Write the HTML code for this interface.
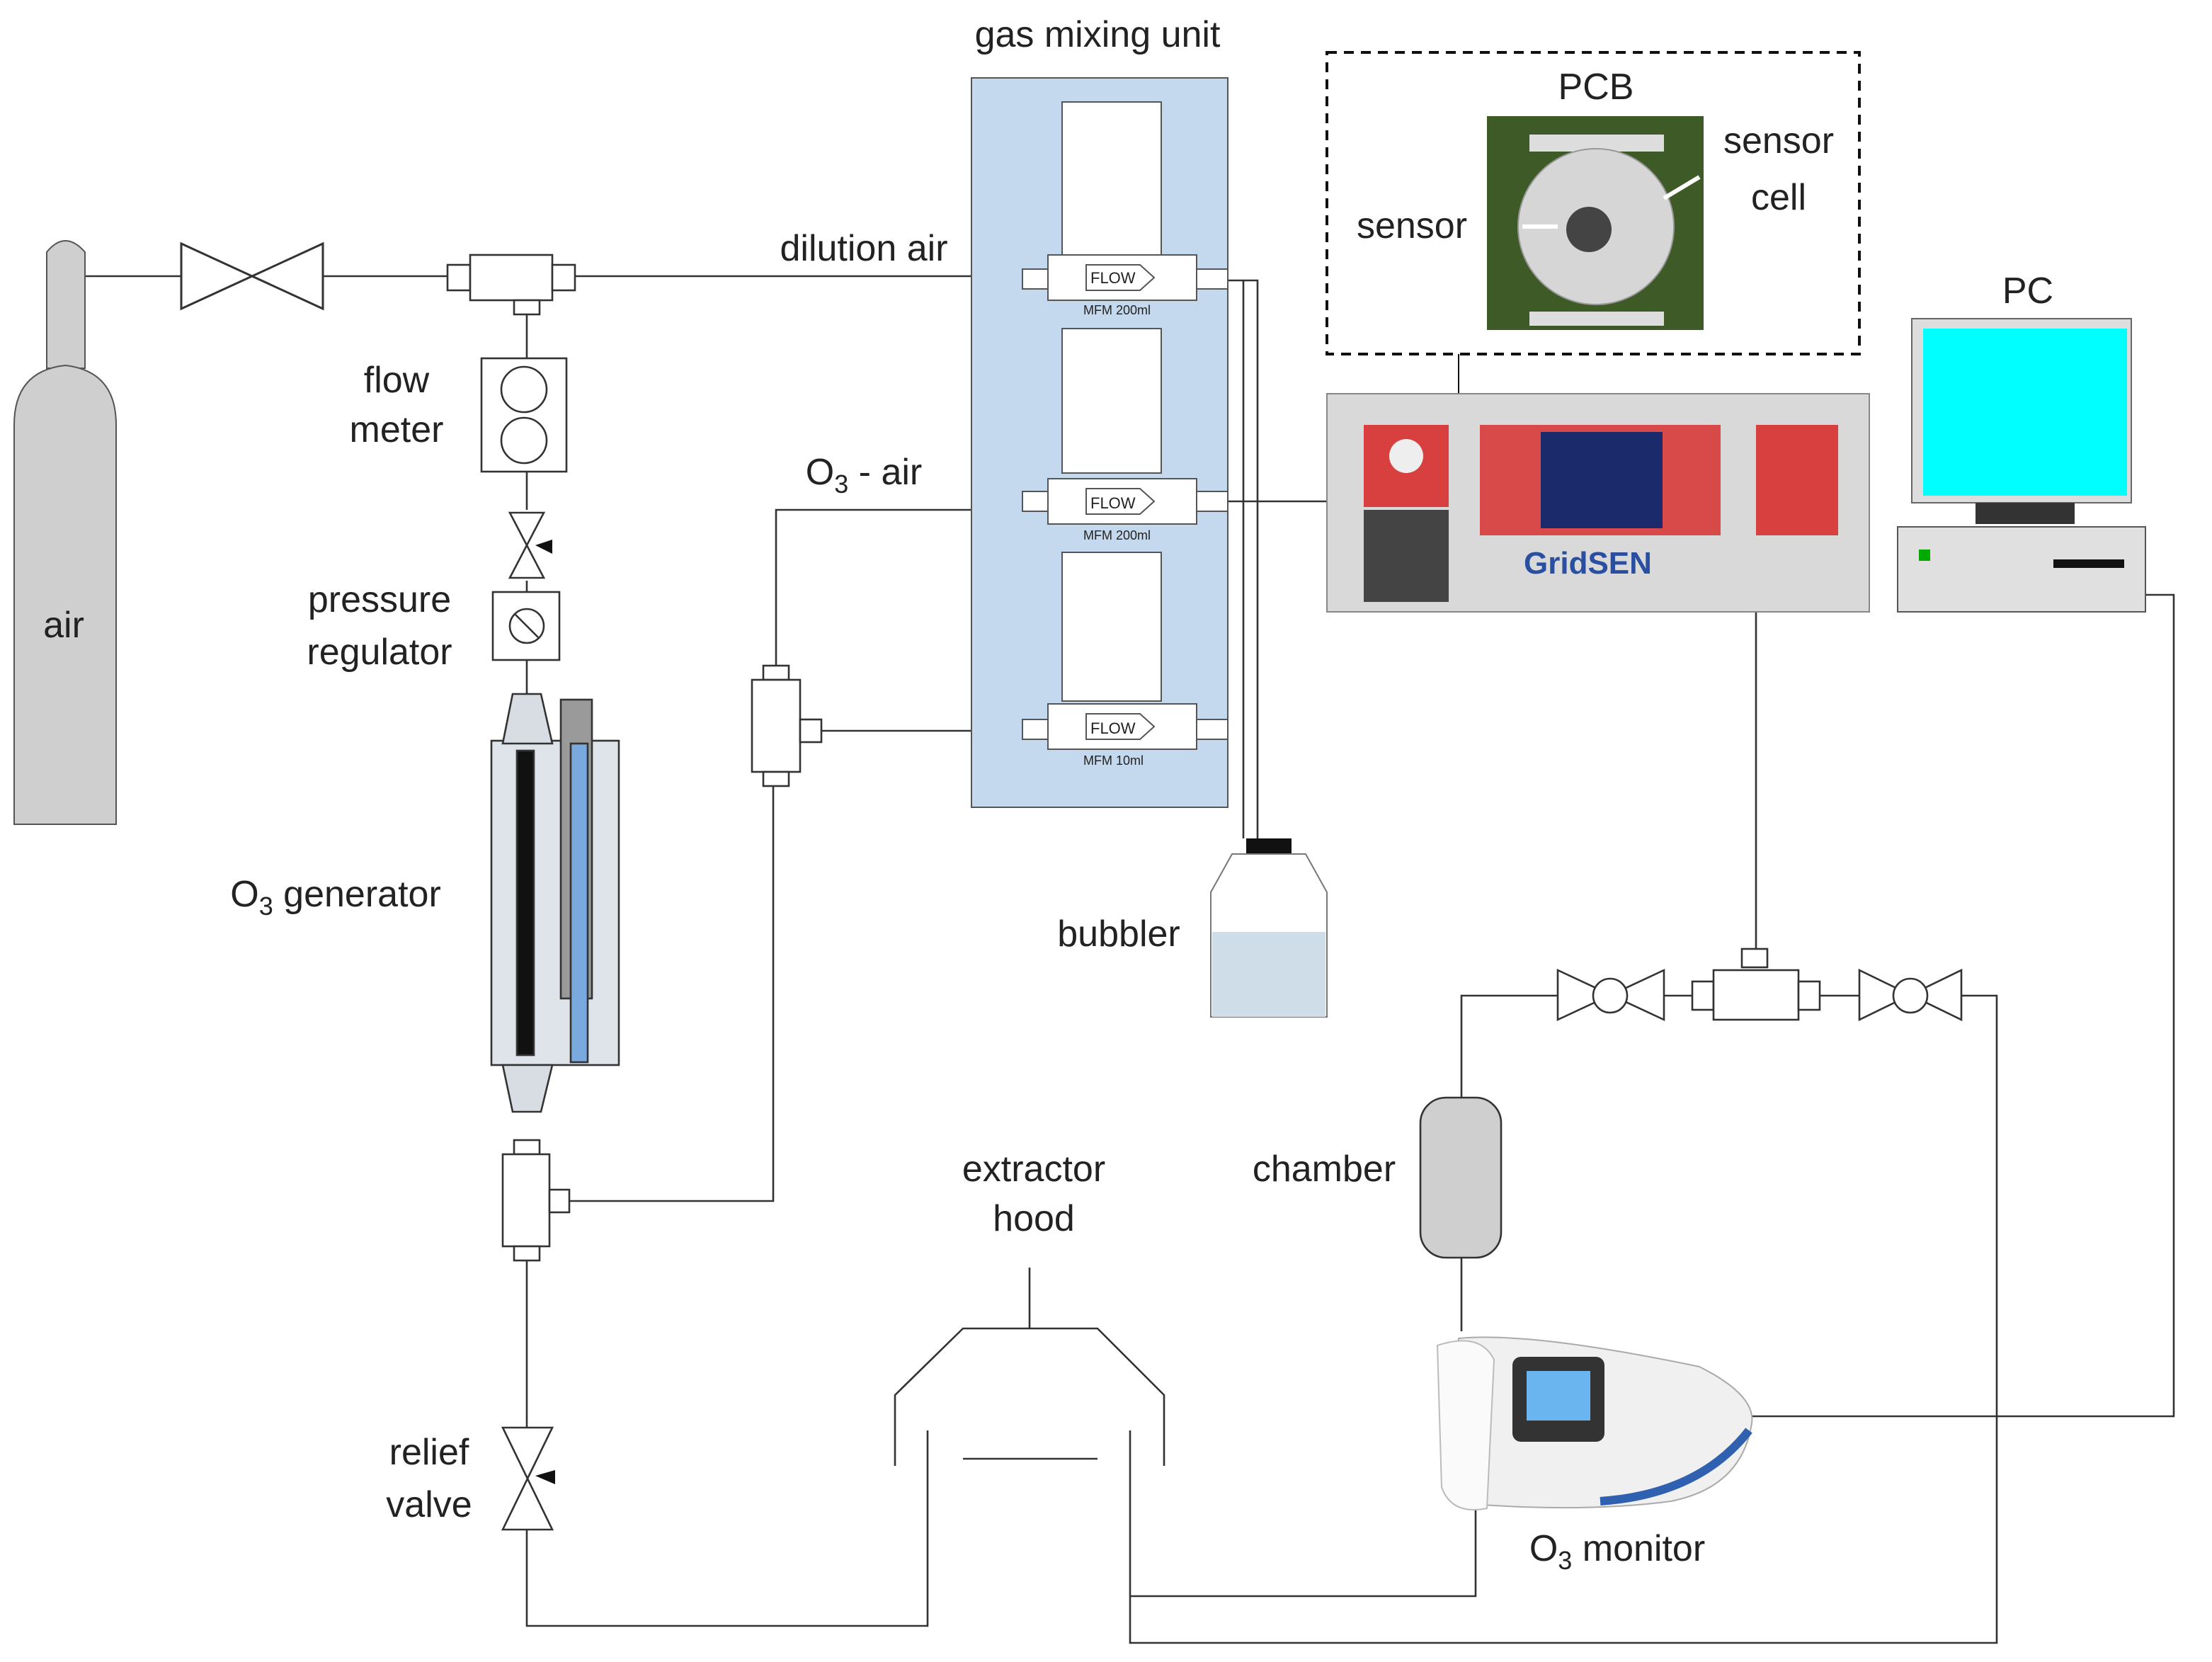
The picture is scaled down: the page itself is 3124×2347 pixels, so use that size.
<!DOCTYPE html>
<html><head><meta charset="utf-8"><style>
html,body{margin:0;padding:0;background:#fff;}
svg{display:block;}
text{font-family:"Liberation Sans",sans-serif;fill:#222;}
</style></head><body>
<svg width="3124" height="2347" viewBox="0 0 1562 1173.5" xmlns="http://www.w3.org/2000/svg">
<rect width="1562" height="1174" fill="#fff"/>
<g fill="none" stroke="#333" stroke-width="1.3">
<!-- pipes -->
<path d="M60 195H128M228 195H316M406 195H722"/>
<path d="M372 220V253M372 333V360M372 410V418M372 466V490"/>
<path d="M402 848H546V555M548 470V360H722M580 516H722"/>
<path d="M372 890V1008M372 1080V1148H655V1010M798 1010V1160H1410V703H1385"/>
<path d="M798 1127H1042V1065"/>
<path d="M867 198H888V592M878 198V592M867 354H937"/>
<path d="M1240 432V683M1195 703H1175M1100 703H1032V775M1032 888V940M1285 703H1313"/>
<path d="M1237 1000H1535V420H1515"/>
<path d="M727 895V938"/>
</g>
<!-- air cylinder -->
<path d="M33 260V178Q46 162 60 178V260Z" fill="#cfcfcf" stroke="#555"/>
<path d="M10 582V300Q10 262 46 258Q82 262 82 300V582Z" fill="#cfcfcf" stroke="#555"/>
<text x="45" y="450" font-size="26" text-anchor="middle">air</text>
<!-- valve -->
<path d="M128 172L228 218V172L128 218Z" fill="#fff" stroke="#333" stroke-width="1.5"/>
<!-- T fitting -->
<g fill="#fff" stroke="#333" stroke-width="1.3">
<rect x="316" y="187" width="16" height="18"/><rect x="332" y="180" width="58" height="32"/><rect x="390" y="187" width="16" height="18"/><rect x="363" y="212" width="18" height="10"/>
<rect x="340" y="253" width="60" height="80"/>
<circle cx="370" cy="275" r="16"/><circle cx="370" cy="311" r="16"/>
<path d="M360 362L384 362L360 408L384 408Z"/>
<rect x="348" y="418" width="47" height="48"/><circle cx="372" cy="442" r="12"/><path d="M364 434L380 450"/>
<!-- generator -->
<rect x="347" y="523" width="90" height="229" fill="#dfe4ea"/>
<path d="M362 490H382L390 525H355Z" fill="#d8dde3"/>
<rect x="365" y="530" width="12" height="215" fill="#111"/>
<rect x="396" y="494" width="22" height="211" fill="#9a9a9a"/>
<rect x="403" y="525" width="12" height="225" fill="#7aa9dd"/>
<path d="M355 752H390L382 785H362Z" fill="#d8dde3"/>
<rect x="363" y="805" width="18" height="10"/><rect x="355" y="815" width="33" height="65"/><rect x="363" y="880" width="18" height="10"/><rect x="388" y="840" width="14" height="16"/>
<rect x="539" y="470" width="18" height="10"/><rect x="531" y="480" width="34" height="65"/><rect x="539" y="545" width="18" height="10"/><rect x="565" y="508" width="15" height="16"/>
<path d="M355 1008H390L355 1080H390Z"/>
</g>
<path d="M378 1042L392 1038V1048Z" fill="#111"/>
<path d="M378 385L390 381V391Z" fill="#111"/>
<!-- gas mixing unit -->
<rect x="686" y="55" width="181" height="515" fill="#c5d9ee" stroke="#555"/>
<g font-size="9" stroke="#555" stroke-width="1">
<rect x="750" y="72" width="70" height="108" fill="#fff"/>
<rect x="750" y="232" width="70" height="102" fill="#fff"/>
<rect x="750" y="390" width="70" height="105" fill="#fff"/>
<g fill="#fff">
<rect x="740" y="180" width="105" height="32"/><rect x="740" y="338" width="105" height="32"/><rect x="740" y="497" width="105" height="32"/>
<rect x="722" y="190" width="18" height="14"/><rect x="845" y="190" width="22" height="14"/>
<rect x="722" y="347" width="18" height="14"/><rect x="845" y="347" width="22" height="14"/>
<rect x="722" y="508" width="18" height="14"/><rect x="845" y="508" width="22" height="14"/>
<path d="M767 187H805L815 196L805 205H767Z"/><path d="M767 345H805L815 354L805 363H767Z"/><path d="M767 504H805L815 513L805 522H767Z"/>
</g>
</g>
<g font-size="11" fill="#222">
<text x="770" y="200">FLOW</text><text x="770" y="359">FLOW</text><text x="770" y="518">FLOW</text>
<text x="765" y="222" font-size="9">MFM 200ml</text><text x="765" y="381" font-size="9">MFM 200ml</text><text x="765" y="540" font-size="9">MFM 10ml</text>
</g>
<text x="775" y="33" font-size="26" text-anchor="middle">gas mixing unit</text>
<!-- bubbler -->
<rect x="880" y="592" width="32" height="11" fill="#111"/>
<path d="M870 603H922L937 630V718H855V630Z" fill="#fff" stroke="#777"/>
<rect x="856" y="658" width="80" height="60" fill="#cfdde9"/>
<text x="790" y="668" font-size="26" text-anchor="middle">bubbler</text>
<!-- PCB -->
<rect x="937" y="37" width="376" height="213" fill="none" stroke="#111" stroke-width="2" stroke-dasharray="7,5"/>
<rect x="1050" y="82" width="153" height="151" fill="#3e5a26"/>
<rect x="1080" y="95" width="95" height="12" fill="#ddd"/><rect x="1080" y="220" width="95" height="10" fill="#ddd"/>
<circle cx="1127" cy="160" r="55" fill="#d6d6d6" stroke="#999"/>
<circle cx="1122" cy="162" r="16" fill="#444"/>
<path d="M1075 160H1100M1200 125L1175 140" stroke="#fff" stroke-width="3"/>
<text x="1127" y="70" font-size="26" text-anchor="middle">PCB</text>
<text x="997" y="168" font-size="26" text-anchor="middle">sensor</text>
<text x="1256" y="108" font-size="26" text-anchor="middle">sensor</text>
<text x="1256" y="148" font-size="26" text-anchor="middle">cell</text>
<path d="M1030 250V308" stroke="#111"/><path d="M1025 305L1030 314L1035 305Z" fill="#111"/>
<!-- GridSEN -->
<rect x="937" y="278" width="383" height="154" fill="#d9d9d9" stroke="#888"/>
<rect x="963" y="300" width="60" height="58" fill="#d84040"/><circle cx="993" cy="322" r="12" fill="#eee"/>
<rect x="963" y="360" width="60" height="65" fill="#444"/>
<rect x="1045" y="300" width="170" height="78" fill="#d84a4a"/>
<rect x="1088" y="305" width="86" height="68" fill="#1a2a6a"/>
<rect x="1240" y="300" width="58" height="78" fill="#d84040"/>
<text x="1076" y="405" font-size="22" font-weight="bold" fill="#2a4fa0" style="fill:#2a4fa0">GridSEN</text>
<!-- PC -->
<text x="1432" y="214" font-size="26" text-anchor="middle">PC</text>
<rect x="1350" y="225" width="155" height="130" fill="#ddd" stroke="#666"/>
<rect x="1358" y="232" width="144" height="118" fill="#00ffff"/>
<rect x="1395" y="355" width="70" height="15" fill="#333"/>
<rect x="1340" y="372" width="175" height="60" fill="#e0e0e0" stroke="#555"/>
<rect x="1355" y="388" width="8" height="8" fill="#0a0"/><rect x="1450" y="395" width="50" height="6" fill="#111"/>
<!-- T & valves -->
<g fill="#fff" stroke="#333" stroke-width="1.3">
<rect x="1230" y="670" width="18" height="13"/><rect x="1195" y="693" width="15" height="20"/><rect x="1210" y="685" width="60" height="35"/><rect x="1270" y="693" width="15" height="20"/>
<path d="M1100 685L1175 720V685L1100 720Z"/><circle cx="1137" cy="703" r="12"/>
<path d="M1313 685L1385 720V685L1313 720Z"/><circle cx="1349" cy="703" r="12"/>
<rect x="1003" y="775" width="57" height="113" rx="18" fill="#cfcfcf"/>
<path d="M632 1035V985L680 938H775L822 985V1035" fill="none"/>
<path d="M680 1030H775"/>
</g>
<!-- monitor -->
<path d="M1030 945Q1080 940 1200 965Q1240 985 1237 1005Q1230 1050 1180 1060Q1120 1068 1040 1062Q1020 1030 1030 945Z" fill="#f0f0f0" stroke="#aaa"/>
<path d="M1015 950Q1045 940 1055 960L1050 1065Q1025 1070 1018 1050Z" fill="#fafafa" stroke="#bbb"/>
<rect x="1068" y="958" width="65" height="60" rx="6" fill="#333"/><rect x="1078" y="968" width="45" height="35" fill="#6ab4ef"/>
<path d="M1130 1060Q1200 1055 1235 1010" stroke="#3060b0" stroke-width="6" fill="none"/>
<g font-size="26" text-anchor="middle">
<text x="280" y="277">flow</text><text x="280" y="312">meter</text>
<text x="268" y="432">pressure</text><text x="268" y="469">regulator</text>
<text x="237" y="640">O<tspan font-size="18" dy="6">3</tspan><tspan dy="-6"> generator</tspan></text>
<text x="303" y="1034">relief</text><text x="303" y="1071">valve</text>
<text x="610" y="184">dilution air</text>
<text x="610" y="342">O<tspan font-size="18" dy="6">3</tspan><tspan dy="-6"> - air</tspan></text>
<text x="730" y="834">extractor</text><text x="730" y="869">hood</text>
<text x="935" y="834">chamber</text>
<text x="1142" y="1102">O<tspan font-size="18" dy="6">3</tspan><tspan dy="-6"> monitor</tspan></text>
</g>
</svg>
</body></html>
